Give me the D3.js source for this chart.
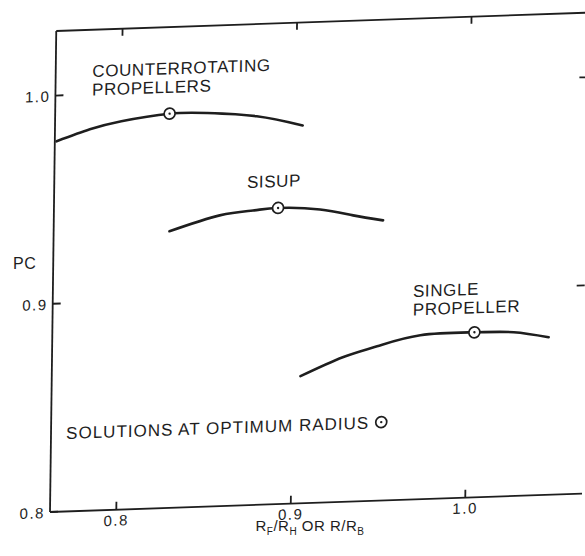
<!DOCTYPE html>
<html>
<head>
<meta charset="utf-8">
<script src="https://cdn.jsdelivr.net/npm/d3@7/dist/d3.min.js"></script>
<style>
  html, body { margin: 0; padding: 0; background: #fff; }
  svg { display: block; }
  text { font-family: "Liberation Sans", Arial, Helvetica, sans-serif; fill: #1e1e1e; }
</style>
</head>
<body>
<svg id="chart" width="585" height="556"></svg>
<script>
// Propulsive coefficient PC against radius ratio for three propulsor layouts
const counterRotatingX = [0.763, 0.782, 0.800, 0.8276, 0.849, 0.8776, 0.904];
const counterRotatingPC = [0.978, 0.9832, 0.9866, 0.9894, 0.9891, 0.9867, 0.9815];

const sisupX = [0.8284, 0.8571, 0.8761, 0.8905, 0.9146, 0.9336, 0.9508];
const sisupPC = [0.9329, 0.9397, 0.9415, 0.9423, 0.9409, 0.9375, 0.9346];

const singleX = [0.9046, 0.9287, 0.9483, 0.973, 1.004, 1.0265, 1.0466];
const singlePC = [0.8611, 0.8695, 0.8742, 0.8788, 0.8793, 0.8787, 0.8757];

// optimum-radius solutions (circled points)
const optimumX = [0.8276, 0.8905, 1.004];
const optimumPC = [0.9894, 0.9423, 0.8793];

// curve labels, anchored in data units at their first line
const labelLines = [["COUNTERROTATING", "PROPELLERS"], ["SISUP"], ["SINGLE", "PROPELLER"]];
const labelX = [0.783, 0.8725, 0.9685];
const labelPC = [1.0083, 0.9524, 0.8973];
const noteText = "SOLUTIONS AT OPTIMUM RADIUS";
const noteX = 0.7707;
const notePC = 0.8348;

const tickValues = [0.8, 0.9, 1.0];
const rightTickValues = [0.9, 1.0];
const xDomain = [0.762, 1.0669];
const yDomain = [0.8, 1.031];

const ink = "#1e1e1e";
const W = 532, H = 481;
const T = 8; // tick length, drawn inward

const svg = d3.select("#chart");

const x = d3.scaleLinear().domain(xDomain).range([0, W]);
const y = d3.scaleLinear().domain(yDomain).range([H, 0]);

// the plotting frame sits slightly skewed on the sheet
const g = svg.append("g")
  .attr("transform", `translate(50,512) matrix(1,-0.0345,-0.013,1,0,0) translate(0,${-H})`);

// frame: left, top and bottom edges
const frame = g.append("g").attr("stroke", ink).attr("stroke-width", 1.8).attr("fill", "none");
frame.append("line").attr("x1", 0).attr("y1", 0).attr("x2", 0).attr("y2", H);
frame.append("line").attr("x1", 0).attr("y1", H).attr("x2", W).attr("y2", H);
frame.append("line").attr("x1", 0).attr("y1", 0).attr("x2", W).attr("y2", 0);

// inward tick marks on all four sides
const ticks = g.append("g").attr("stroke", ink).attr("stroke-width", 1.8);
ticks.selectAll("line.xb").data(tickValues).join("line").attr("class", "xb")
  .attr("x1", d => x(d)).attr("x2", d => x(d)).attr("y1", H).attr("y2", H - T);
ticks.selectAll("line.xt").data(tickValues).join("line").attr("class", "xt")
  .attr("x1", d => x(d)).attr("x2", d => x(d)).attr("y1", 0).attr("y2", T - 1);
ticks.selectAll("line.yl").data(tickValues).join("line").attr("class", "yl")
  .attr("x1", 0).attr("x2", T).attr("y1", d => y(d)).attr("y2", d => y(d));
ticks.selectAll("line.yr").data(rightTickValues).join("line").attr("class", "yr")
  .attr("x1", W).attr("x2", W - T).attr("y1", d => y(d)).attr("y2", d => y(d));

const fmt = d3.format(".1f");

// tick labels
const tickText = g.append("g").style("font-size", "15px").style("letter-spacing", "1.5px");
tickText.selectAll("text.xl").data(tickValues).join("text").attr("class", "xl")
  .attr("x", d => x(d)).attr("y", H + 16)
  .attr("text-anchor", "middle")
  .text(fmt);
tickText.selectAll("text.yl").data(tickValues).join("text").attr("class", "yl")
  .attr("x", -5).attr("y", d => y(d) + 6)
  .attr("text-anchor", "end")
  .text(fmt);

// curves
const line = d3.line()
  .x(d => x(d[0]))
  .y(d => y(d[1]))
  .curve(d3.curveNatural);

const series = [
  d3.zip(counterRotatingX, counterRotatingPC),
  d3.zip(sisupX, sisupPC),
  d3.zip(singleX, singlePC)
];

g.append("g")
  .selectAll("path")
  .data(series)
  .join("path")
  .attr("d", line)
  .attr("fill", "none")
  .attr("stroke", ink)
  .attr("stroke-width", 2.6)
  .attr("stroke-linecap", "round");

// circled optimum points
function marker(sel) {
  sel.append("circle").attr("r", 5.5).attr("fill", "#fff").attr("stroke", ink).attr("stroke-width", 1.7);
  sel.append("circle").attr("r", 1.2).attr("fill", ink);
}

g.append("g")
  .selectAll("g")
  .data(d3.zip(optimumX, optimumPC))
  .join("g")
  .attr("transform", d => `translate(${x(d[0])},${y(d[1])})`)
  .each(function () { marker(d3.select(this)); });

// curve labels
const labels = g.append("g")
  .style("font-size", "17px")
  .style("letter-spacing", "0.6px");

labelLines.forEach((lines, i) => {
  const t = labels.append("text")
    .attr("x", x(labelX[i]))
    .attr("y", y(labelPC[i]));
  lines.forEach((s, j) => {
    t.append("tspan")
      .attr("x", x(labelX[i]))
      .attr("dy", j === 0 ? 0 : 18.5)
      .text(s);
  });
});

// key note with its symbol
const note = labels.append("text")
  .attr("x", x(noteX))
  .attr("y", y(notePC))
  .style("letter-spacing", "1px")
  .text(noteText);
const noteLen = note.node().getComputedTextLength();
const key = g.append("g")
  .attr("transform", `translate(${x(noteX) + noteLen + 12},${y(notePC) - 6})`);
marker(key);

// axis titles
svg.append("text")
  .attr("x", 13)
  .attr("y", 269)
  .style("font-size", "16px")
  .style("letter-spacing", "0.5px")
  .text("PC");

const xt = svg.append("text")
  .attr("x", 310)
  .attr("y", 531)
  .attr("text-anchor", "middle")
  .style("font-size", "15px")
  .style("letter-spacing", "0.5px");
xt.append("tspan").text("R");
xt.append("tspan").attr("dy", 4).style("font-size", "10px").text("F");
xt.append("tspan").attr("dy", -4).text("/R");
xt.append("tspan").attr("dy", 4).style("font-size", "10px").text("H");
xt.append("tspan").attr("dy", -4).text(" OR R/R");
xt.append("tspan").attr("dy", 4).style("font-size", "10px").text("B");
</script>
</body>
</html>
